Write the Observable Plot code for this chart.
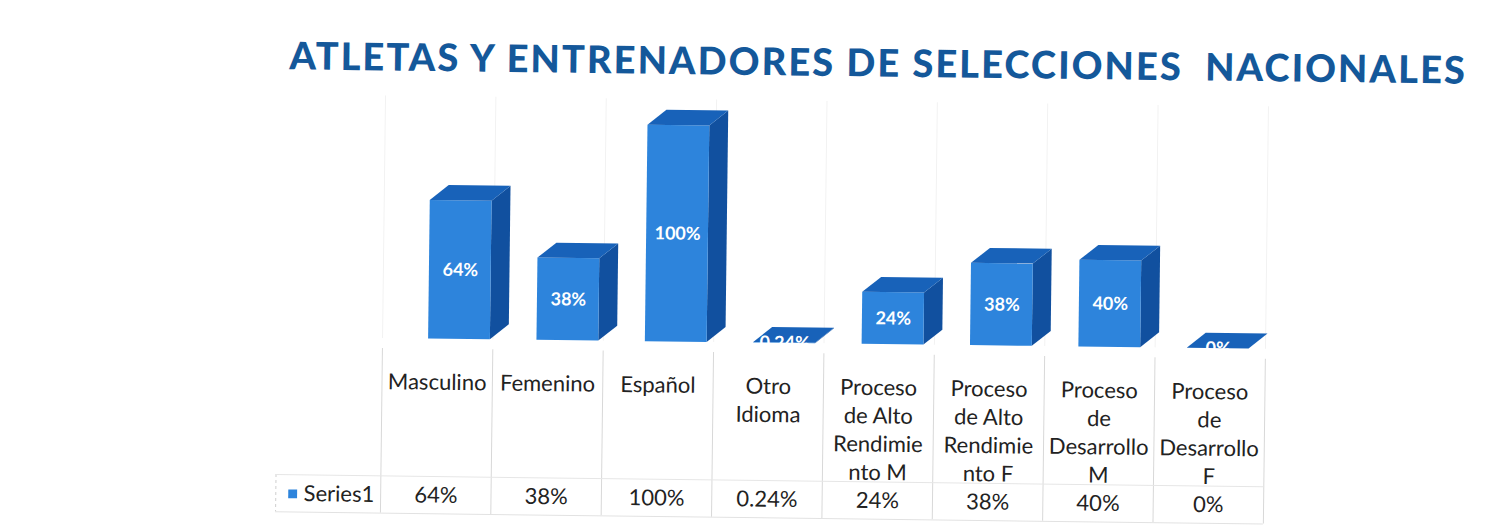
<!DOCTYPE html>
<html><head><meta charset="utf-8">
<script src="https://cdn.jsdelivr.net/npm/d3@7"></script>
<script src="https://cdn.jsdelivr.net/npm/@observablehq/plot@0.6"></script>
<style>
html,body{margin:0;padding:0;background:#fff;overflow:hidden}
#wrap{position:relative;width:1512px;height:527px;transform:rotate(0.7deg);transform-origin:756px 263px}
#title{position:absolute;left:287px;top:41px;white-space:pre;font-family:Lato,sans-serif;font-weight:900;font-size:38px;line-height:38px;color:#14589a}
#chart{position:absolute;left:0;top:95px}
</style></head>
<body>
<div id="wrap">
  <div id="title"></div>
  <div id="chart"></div>
</div>
<script>
const titleText = "ATLETAS Y ENTRENADORES DE SELECCIONES  NACIONALES";
const categories = ["Masculino","Femenino","Español","Otro\nIdioma","Proceso\nde Alto\nRendimie\nnto M","Proceso\nde Alto\nRendimie\nnto F","Proceso\nde\nDesarrollo\nM","Proceso\nde\nDesarrollo\nF"];
const values = [64, 38, 100, 0.24, 24, 38, 40, 0];
const valueLabels = ["64%","38%","100%","0.24%","24%","38%","40%","0%"];
const seriesName = "Series1";

// title, stretched to the reference width
const t = document.getElementById("title");
t.textContent = titleText;
const w0 = t.getBoundingClientRect().width;
t.style.letterSpacing = ((1178 - w0) / titleText.length) + "px";

// styling constants (3D look and table placement)
const FRONT = "#2d84dc", TOP = "#1862b9", SIDE = "#11509f";
const BW = 0.56, DX = 0.17, DY = 7;
const fl = i => -0.083 - 0.018 * i;   // perspective shift of the front face
const HEADER_Y = -14.1, VALUE_Y = -72.3, MID_LINE = -63.5, BOTTOM_LINE = -80.7, TABLE_TOP = -4.6;

const rows = categories.map((c, i) => ({i, c, v: values[i], lab: valueLabels[i], x1: i + fl(i), x2: i + fl(i) + BW}));
const topFace = rows.flatMap(d => [
  {i: d.i, y: d.v, x1: d.x1, x2: d.x2},
  {i: d.i, y: d.v + DY, x1: d.x1 + DX, x2: d.x2 + DX}
]);
const sideFace = rows.flatMap(d => [
  {i: d.i, x: d.x2, y1: 0, y2: d.v},
  {i: d.i, x: d.x2 + DX, y1: DY, y2: d.v + DY}
]);
const bounds = d3.range(categories.length + 1).map(k => k - 0.5);

const chart = Plot.plot({
  width: 1512, height: 432,
  marginLeft: 0, marginRight: 0, marginTop: 0, marginBottom: 0,
  x: {domain: [-0.5, categories.length - 0.5], range: [383, 1266], axis: null},
  y: {domain: [-85, 105], range: [431.5, 20.2], axis: null},
  style: {background: "transparent", fontFamily: "Lato, sans-serif"},
  marks: [
    Plot.ruleX(bounds, {y1: 0, y2: 112, stroke: "#f2f2f2"}),
    Plot.ruleX(bounds, {y1: TABLE_TOP, y2: BOTTOM_LINE, stroke: "#d8d8d8"}),
    Plot.ruleX([-1.45], {y1: MID_LINE, y2: BOTTOM_LINE, stroke: "#cfcfcf", strokeDasharray: "3,3"}),
    Plot.ruleY([MID_LINE], {x1: -1.45, x2: categories.length - 0.5, stroke: "#e6e6e6"}),
    Plot.ruleY([BOTTOM_LINE], {x1: -1.45, x2: categories.length - 0.5, stroke: "#e2e2e2"}),
    Plot.areaY(sideFace, {x: "x", y1: "y1", y2: "y2", z: "i", fill: SIDE, curve: "linear"}),
    Plot.rect(rows, {x1: "x1", x2: "x2", y1: 0, y2: "v", fill: FRONT}),
    Plot.areaX(topFace, {y: "y", x1: "x1", x2: "x2", z: "i", fill: TOP, curve: "linear"}),
    Plot.text(rows, {x: d => (d.x1 + d.x2) / 2, y: d => d.v / 2, text: "lab", fill: "white", fontWeight: "bold", fontSize: 18}),
    Plot.text(rows, {x: "i", y: HEADER_Y, text: "c", lineAnchor: "top", lineHeight: 28.3 / 22, fontSize: 22, fill: "#222"}),
    Plot.text(rows, {x: "i", y: VALUE_Y, text: "lab", fontSize: 22, fill: "#222"}),
    Plot.dot([seriesName], {x: -1.297, y: VALUE_Y, symbol: "square", r: 5, fill: FRONT}),
    Plot.text([seriesName], {x: -1.198, y: VALUE_Y, text: d => d, textAnchor: "start", fontSize: 22, fill: "#222"})
  ]
});
document.getElementById("chart").appendChild(chart);
</script>
</body></html>
